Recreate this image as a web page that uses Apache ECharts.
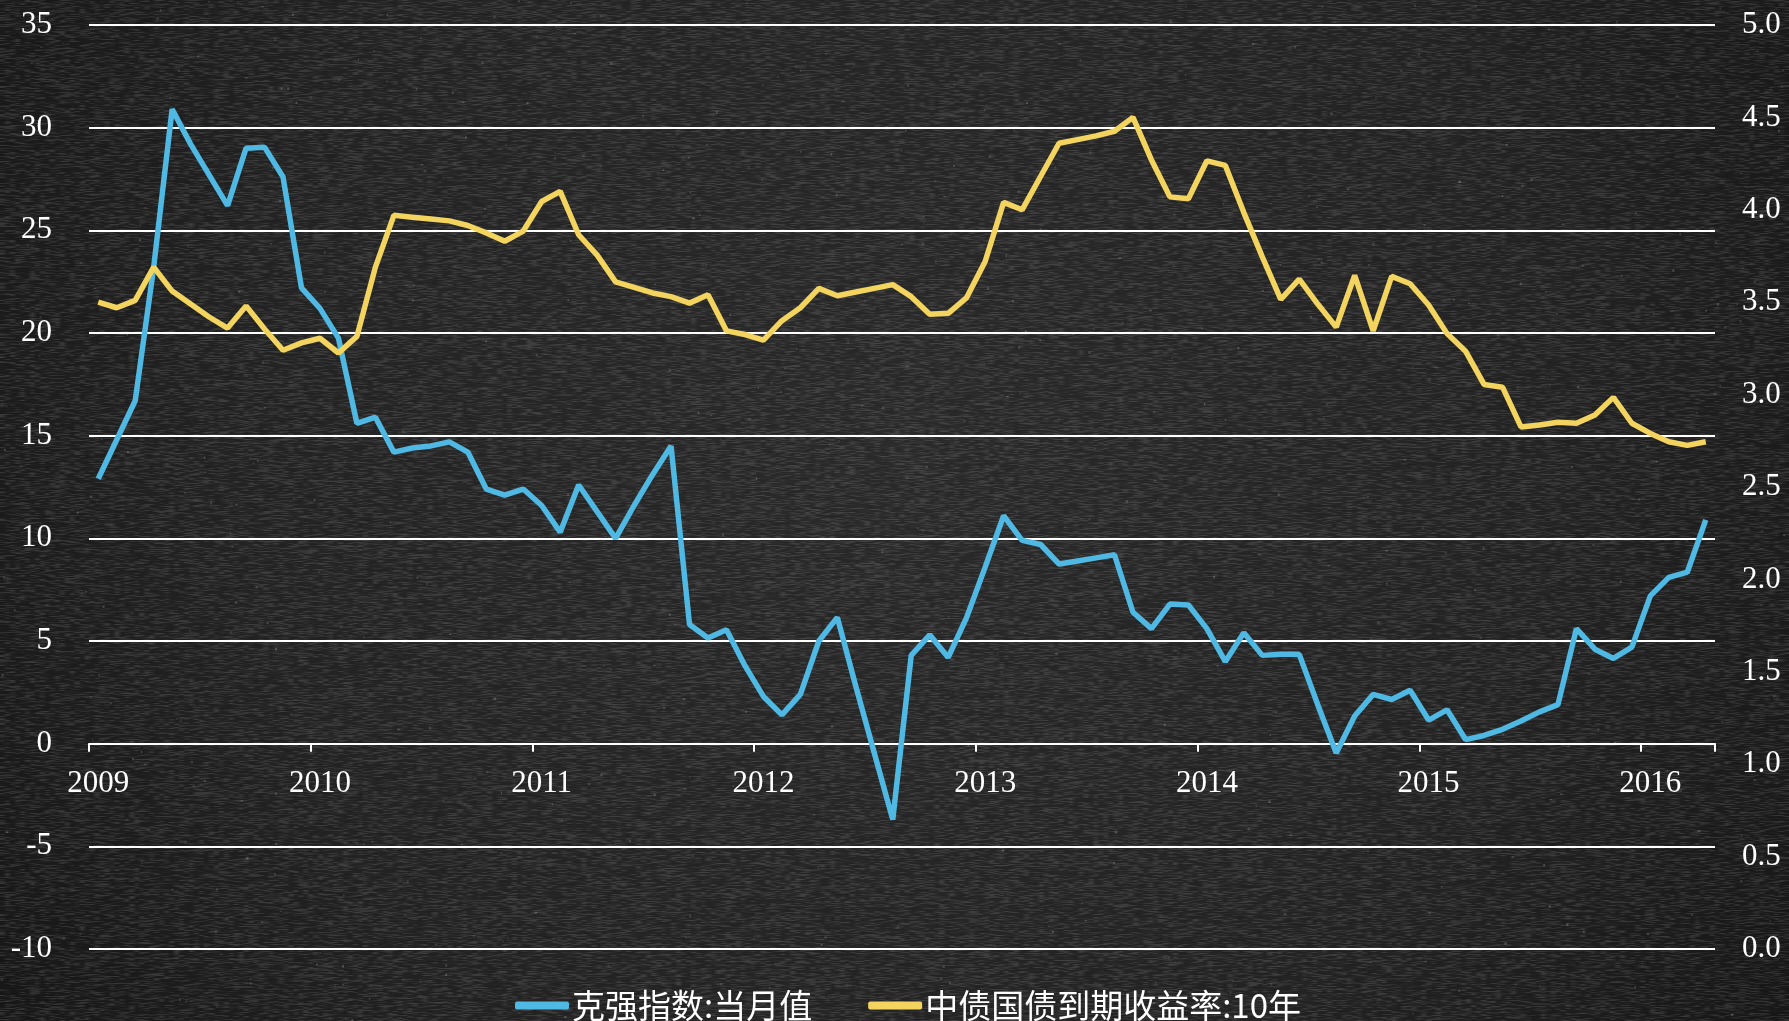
<!DOCTYPE html>
<html>
<head>
<meta charset="utf-8">
<script src="https://cdn.jsdelivr.net/npm/echarts@6/dist/echarts.min.js"></script>
<style>
  html, body { margin: 0; padding: 0; background: #1c1c1c; }
  #wrap { position: relative; width: 1789px; height: 1021px; }
  #board, #chart { position: absolute; left: 0; top: 0; width: 1789px; height: 1021px; }
</style>
</head>
<body>
<div id="wrap">
  <canvas id="board" width="1789" height="1021"></canvas>
  <div id="chart"></div>
</div>
<script>
// Monthly categories, Jan 2009 – Apr 2016
const months = [];
for (let y = 2009; y <= 2016; y++) {
  for (let m = 1; m <= 12; m++) {
    if (y === 2016 && m > 4) break;
    months.push(y + '-' + String(m).padStart(2, '0'));
  }
}

// 克强指数:当月值 (left axis)
const keqiangIndex = [
  12.9, 14.8, 16.7, 23.2, 30.9, 29.2, 27.7, 26.2, 29.0, 29.05, 27.6, 22.2,
  21.2, 19.75, 15.6, 15.9, 14.2, 14.4, 14.5, 14.7, 14.2, 12.4, 12.1, 12.4,
  11.6, 10.3, 12.6, 11.3, 10.0, 11.6, 13.1, 14.5, 5.8, 5.15, 5.55, 3.8,
  2.3, 1.4, 2.4, 5.0, 6.15, 2.8, -0.45, -3.7, 4.3, 5.3, 4.2, 6.15,
  8.6, 11.1, 9.9, 9.7, 8.75, 8.9, 9.05, 9.2, 6.4, 5.6, 6.8, 6.75,
  5.6, 4.0, 5.4, 4.3, 4.35, 4.35, 1.9, -0.45, 1.35, 2.4, 2.15, 2.6,
  1.15, 1.65, 0.2, 0.4, 0.7, 1.1, 1.55, 1.9, 5.6, 4.6, 4.15, 4.7,
  7.2, 8.1, 8.35, 10.9
];

// 中债国债到期收益率:10年 (right axis, %)
const bondYield10y = [
  3.50, 3.47, 3.51, 3.69, 3.56, 3.49, 3.42, 3.36, 3.48, 3.355, 3.24, 3.28,
  3.305, 3.225, 3.315, 3.69, 3.97, 3.96, 3.95, 3.94, 3.915, 3.875, 3.83, 3.885,
  4.045, 4.10, 3.865, 3.755, 3.61, 3.58, 3.55, 3.53, 3.495, 3.54, 3.345, 3.325,
  3.295, 3.40, 3.47, 3.575, 3.535, 3.555, 3.575, 3.595, 3.53, 3.435, 3.44, 3.525,
  3.72, 4.04, 4.00, 4.18, 4.36, 4.38, 4.40, 4.425, 4.50, 4.27, 4.07, 4.06,
  4.265, 4.24, 3.985, 3.745, 3.515, 3.625, 3.49, 3.365, 3.645, 3.345, 3.64, 3.60,
  3.485, 3.33, 3.235, 3.055, 3.04, 2.825, 2.835, 2.85, 2.845, 2.89, 2.985, 2.845,
  2.79, 2.745, 2.725, 2.745
];

const seriesNames = ['克强指数:当月值', '中债国债到期收益率:10年'];
const leftTicks = { min: -10, max: 35, step: 5 };
const rightTicks = { min: 0, max: 5, step: 0.5 };

// ---- chalkboard backdrop ----
(function paintBoard() {
  const cv = document.getElementById('board');
  const ctx = cv.getContext('2d');
  const W = cv.width, H = cv.height;
  const g = ctx.createRadialGradient(W * 0.5, H * 0.45, 0, W * 0.5, H * 0.45, W * 0.62);
  g.addColorStop(0, '#2d2d2d');
  g.addColorStop(0.6, '#252525');
  g.addColorStop(1, '#171717');
  ctx.fillStyle = g;
  ctx.fillRect(0, 0, W, H);

  // seeded generator so the grain is the same on every load
  let s = 20160415;
  const rnd = () => {
    s |= 0; s = (s + 0x6D2B79F5) | 0;
    let t = Math.imul(s ^ (s >>> 15), 1 | s);
    t = (t + Math.imul(t ^ (t >>> 7), 61 | t)) ^ t;
    return ((t ^ (t >>> 14)) >>> 0) / 4294967296;
  };

  // horizontal chalk streaks: low horizontal resolution, stretched across
  const nw = 360, nh = H;
  const nc = document.createElement('canvas');
  nc.width = nw; nc.height = nh;
  const nctx = nc.getContext('2d');
  const img = nctx.createImageData(nw, nh);
  for (let i = 0; i < nw * nh; i++) {
    const r = rnd();
    const light = r > 0.5;
    const v = light ? 255 : 0;
    img.data[i * 4] = v; img.data[i * 4 + 1] = v; img.data[i * 4 + 2] = v;
    img.data[i * 4 + 3] = Math.floor((light ? (r - 0.5) : (0.5 - r)) * 2 * 34);
  }
  nctx.putImageData(img, 0, 0);
  ctx.imageSmoothingEnabled = true;
  ctx.drawImage(nc, 0, 0, W, H);

  // fine chalk specks
  for (let i = 0; i < 900; i++) {
    const x = rnd() * W, y = rnd() * H;
    ctx.fillStyle = 'rgba(255,255,255,' + (0.05 + rnd() * 0.18).toFixed(3) + ')';
    ctx.fillRect(x, y, 1 + rnd() * 1.5, 1 + rnd() * 1.5);
  }
})();

// ---- chart ----
const serif = '"Liberation Serif", "DejaVu Serif", serif';
const white = '#ffffff';

const gridTop = 25, gridBottom = 72, chartHeight = 1021;
// distance from the grid's bottom edge up to the zero line of the left axis
const plotHeight = chartHeight - gridTop - gridBottom;
const zeroOffset = plotHeight * (0 - leftTicks.min) / (leftTicks.max - leftTicks.min);

const isYearStart = (i) => i % 12 === 0;

const chart = echarts.init(document.getElementById('chart'), null, { renderer: 'canvas' });

chart.setOption({
  backgroundColor: 'transparent',
  animation: false,
  grid: {
    left: 89, right: 74, top: gridTop, bottom: gridBottom,
    containLabel: false, outerBoundsMode: 'none'
  },
  legend: {
    data: seriesNames,
    left: 510,
    top: 984,
    icon: 'roundRect',
    itemWidth: 54,
    itemHeight: 8,
    itemGap: 56,
    textStyle: {
      color: white,
      fontSize: 33,
      fontFamily: '"Noto Sans CJK SC", sans-serif',
      padding: [0, 0, 0, -2]
    }
  },
  xAxis: {
    type: 'category',
    data: months,
    boundaryGap: true,
    offset: -zeroOffset,
    axisLine: { onZero: false, lineStyle: { color: white, width: 2 } },
    axisTick: { show: true, interval: isYearStart, length: 8, lineStyle: { color: white, width: 2 } },
    axisLabel: {
      interval: isYearStart,
      color: white,
      fontSize: 31,
      fontFamily: serif,
      margin: 25,
      formatter: v => v.slice(0, 4)
    },
    splitLine: { show: false }
  },
  yAxis: [
    {
      type: 'value',
      min: leftTicks.min, max: leftTicks.max, interval: leftTicks.step,
      axisLine: { show: false },
      axisTick: { show: false },
      axisLabel: { color: white, fontSize: 31, fontFamily: serif, margin: 37 },
      splitLine: { show: true, lineStyle: { color: white, width: 2 } }
    },
    {
      type: 'value',
      position: 'right',
      min: rightTicks.min, max: rightTicks.max, interval: rightTicks.step,
      axisLine: { show: false },
      axisTick: { show: false },
      axisLabel: {
        color: white, fontSize: 31, fontFamily: serif, margin: 27, align: 'left',
        formatter: v => v.toFixed(1)
      },
      splitLine: { show: false }
    }
  ],
  series: [
    {
      name: seriesNames[0],
      type: 'line',
      yAxisIndex: 0,
      data: keqiangIndex,
      showSymbol: false,
      symbol: 'none',
      lineStyle: { color: '#4fb8e3', width: 5.5 },
      itemStyle: { color: '#4fb8e3' }
    },
    {
      name: seriesNames[1],
      type: 'line',
      yAxisIndex: 1,
      data: bondYield10y,
      showSymbol: false,
      symbol: 'none',
      lineStyle: { color: '#f3d45e', width: 5.5 },
      itemStyle: { color: '#f3d45e' }
    }
  ]
});
</script>
</body>
</html>
